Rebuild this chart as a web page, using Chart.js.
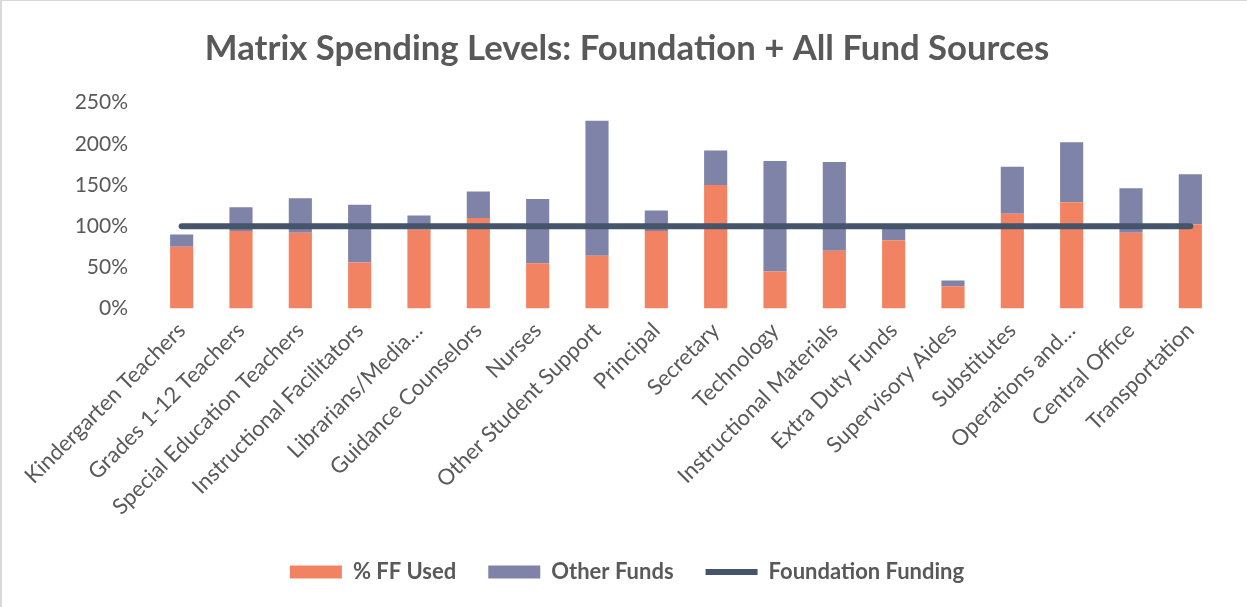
<!DOCTYPE html>
<html lang="en">
<head>
    <meta charset="UTF-8">
    <title>Matrix Spending Levels</title>
    <script src="https://cdn.jsdelivr.net/npm/chart.js"></script>
    <style>
        html, body {
            margin: 0;
            padding: 0;
            background: #ffffff;
        }
        .frame {
            width: 1247px;
            height: 607px;
            position: relative;
        }
        /* thin grey edge like the exported picture */
        .frame::after {
            content: '';
            position: absolute;
            left: 0;
            top: 0;
            right: 0;
            bottom: 0;
            border-top: 1px solid #d9d9d9;
            border-left: 2px solid #d9d9d9;
            pointer-events: none;
        }
    </style>
</head>
<body>
    <div class="frame">
        <canvas id="spendingChart"></canvas>
    </div>

    <script>
        // Categories (x axis)
        const categories = [
            'Kindergarten Teachers', 'Grades 1-12 Teachers', 'Special Education Teachers',
            'Instructional Facilitators', 'Librarians/Media…', 'Guidance Counselors',
            'Nurses', 'Other Student Support', 'Principal', 'Secretary', 'Technology',
            'Instructional Materials', 'Extra Duty Funds', 'Supervisory Aides',
            'Substitutes', 'Operations and…', 'Central Office', 'Transportation'
        ];

        // Series values, in percent
        const ffUsed      = [75, 94, 92, 56, 96, 110, 55, 64, 94, 150, 45, 70, 83, 27, 115, 129, 92, 102];
        const otherFunds  = [15, 29, 42, 70, 17, 32, 78, 164, 25, 42, 134, 108, 15, 7, 57, 73, 54, 61];
        const foundation  = [100, 100, 100, 100, 100, 100, 100, 100, 100, 100, 100, 100, 100, 100, 100, 100, 100, 100];

        // Y axis ticks
        const yTicks = [0, 50, 100, 150, 200, 250];

        const textColor = '#595959';
        const fontFamily = 'Lato, "Open Sans", sans-serif';

        const ctx = document.getElementById('spendingChart').getContext('2d');
        new Chart(ctx, {
            data: {
                labels: categories,
                datasets: [
                    {
                        type: 'bar',
                        label: '% FF Used',
                        data: ffUsed,
                        backgroundColor: '#F28362',
                        borderWidth: 0,
                        stack: 'funds',
                        order: 1,
                        pointStyle: 'rect'
                    },
                    {
                        type: 'bar',
                        label: 'Other Funds',
                        data: otherFunds,
                        backgroundColor: '#7F83A8',
                        borderWidth: 0,
                        stack: 'funds',
                        order: 1,
                        pointStyle: 'rect'
                    },
                    {
                        type: 'line',
                        label: 'Foundation Funding',
                        data: foundation,
                        borderColor: '#44546A',
                        backgroundColor: '#44546A',
                        borderWidth: 6,
                        borderCapStyle: 'round',
                        pointRadius: 0,
                        pointHoverRadius: 0,
                        stack: 'line',
                        order: 0,
                        pointStyle: 'line'
                    }
                ]
            },
            options: {
                responsive: true,
                maintainAspectRatio: false,
                animation: false,
                layout: {
                    padding: { left: 34, right: 27, top: 0, bottom: 14 }
                },
                datasets: {
                    bar: {
                        barPercentage: 0.39,
                        categoryPercentage: 1.0
                    }
                },
                scales: {
                    x: {
                        stacked: true,
                        grid: { display: false, drawTicks: false },
                        border: { display: false },
                        ticks: {
                            color: textColor,
                            font: { family: fontFamily, size: 22 },
                            minRotation: 45,
                            maxRotation: 45,
                            autoSkip: false,
                            padding: 9
                        },
                        // let the rotated labels hang to the left without pushing the plot
                        afterFit: (axis) => {
                            axis.paddingLeft = 0;
                            axis.paddingRight = 0;
                        }
                    },
                    y: {
                        stacked: true,
                        min: 0,
                        max: 250,
                        grid: { display: false, drawTicks: false },
                        border: { display: false },
                        afterBuildTicks: (axis) => {
                            axis.ticks = yTicks.map(v => ({ value: v }));
                        },
                        // fixed width so the plot starts where the original does
                        afterFit: (axis) => {
                            axis.width = 118;
                        },
                        ticks: {
                            color: textColor,
                            font: { family: fontFamily, size: 21 },
                            padding: 24,
                            callback: (v) => v + '%'
                        }
                    }
                },
                plugins: {
                    title: {
                        display: true,
                        text: 'Matrix Spending Levels: Foundation + All Fund Sources',
                        color: textColor,
                        font: { family: fontFamily, size: 34.7, weight: 'bold' },
                        padding: { top: 28, bottom: 33 }
                    },
                    legend: {
                        position: 'bottom',
                        labels: {
                            color: textColor,
                            font: { family: fontFamily, size: 22, weight: 'bold' },
                            usePointStyle: true,
                            pointStyleWidth: 52,
                            boxWidth: 52,
                            boxHeight: 13,
                            padding: 32,
                            sort: (a, b) => a.datasetIndex - b.datasetIndex
                        }
                    },
                    tooltip: { enabled: false }
                }
            }
        });
    </script>
</body>
</html>
